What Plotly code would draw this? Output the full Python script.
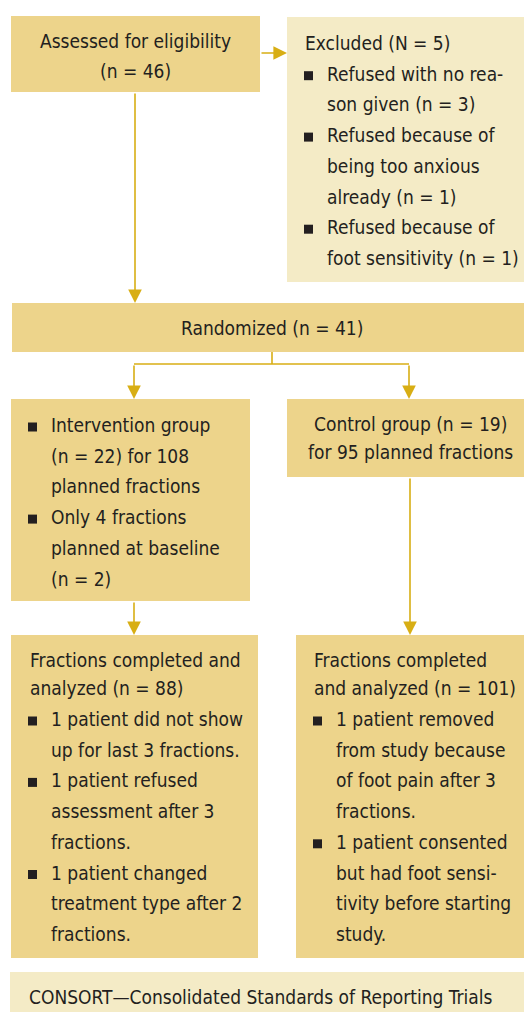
import plotly.graph_objects as go

# ---- content ----
assessed_lines = ["Assessed for eligibility", "(n = 46)"]
excluded_title = "Excluded (N = 5)"
excluded_items = [
    ["Refused with no rea-", "son given (n = 3)"],
    ["Refused because of", "being too anxious", "already (n = 1)"],
    ["Refused because of", "foot sensitivity (n = 1)"],
]
randomized_text = "Randomized (n = 41)"
intervention_items = [
    ["Intervention group", "(n = 22) for 108", "planned fractions"],
    ["Only 4 fractions", "planned at baseline", "(n = 2)"],
]
control_lines = ["Control group (n = 19)", "for 95 planned fractions"]
left_title = ["Fractions completed and", "analyzed (n = 88)"]
left_items = [
    ["1 patient did not show", "up for last 3 fractions."],
    ["1 patient refused", "assessment after 3", "fractions."],
    ["1 patient changed", "treatment type after 2", "fractions."],
]
right_title = ["Fractions completed", "and analyzed (n = 101)"]
right_items = [
    ["1 patient removed", "from study because", "of foot pain after 3", "fractions."],
    ["1 patient consented", "but had foot sensi-", "tivity before starting", "study."],
]
footer_text = "CONSORT\u2014Consolidated Standards of Reporting Trials"

# ---- style ----
W, H = 524, 1012
DARK = "#EDD48B"
LIGHT = "#F4EBC6"
ARROW = "#D8AE14"
TXT = "#231F20"
FONT = "DejaVu Sans Condensed, Liberation Sans Narrow, sans-serif"
FS = 19
LH = 30.7

fig = go.Figure()
shapes = []
ann = []

def box(x0, y0, x1, y1, color):
    shapes.append(dict(type="rect", xref="x", yref="y", x0=x0, y0=y0, x1=x1, y1=y1,
                       fillcolor=color, line=dict(width=0), layer="below"))

def text(x, y, s, anchor="left", size=FS):
    ann.append(dict(x=x, y=y, xref="x", yref="y", text=s, showarrow=False,
                    xanchor=anchor, yanchor="middle",
                    font=dict(family=FONT, size=size, color=TXT)))

def bullet(x, y):
    shapes.append(dict(type="rect", xref="x", yref="y", x0=x, y0=y - 4.5, x1=x + 9, y1=y + 4.5,
                       fillcolor=TXT, line=dict(width=0)))

def line(x0, y0, x1, y1):
    shapes.append(dict(type="line", xref="x", yref="y", x0=x0, y0=y0, x1=x1, y1=y1,
                       line=dict(color=ARROW, width=1.6)))

def arrow(x0, y0, x1, y1):
    ann.append(dict(x=x1, y=y1, ax=x0, ay=y0, xref="x", yref="y", axref="x", ayref="y",
                    text="", showarrow=True, arrowhead=2, arrowsize=1.7, arrowwidth=1.6,
                    arrowcolor=ARROW, standoff=0, startstandoff=0))

def bullets(items, y0, bx, tx):
    y = y0
    for item in items:
        bullet(bx, y + 2)
        for ln in item:
            text(tx, y, ln)
            y += LH
    return y

# boxes
box(11, 16, 260, 92, DARK)
box(287, 17, 524, 282, LIGHT)
box(12, 303, 524, 352, DARK)
box(11, 399, 250, 601, DARK)
box(287, 399, 524, 477, DARK)
box(11, 635, 258, 958, DARK)
box(296, 635, 524, 958, DARK)
box(10, 972, 524, 1012, LIGHT)

# connectors
arrow(260, 53, 287, 53)
arrow(135, 92, 135, 303)
line(272, 352, 272, 364)
line(134, 364, 409, 364)
arrow(134, 364, 134, 399)
arrow(409, 364, 409, 399)
arrow(134, 601, 134, 635)
arrow(410, 477, 410, 635)

# texts
for i, s in enumerate(assessed_lines):
    text(135, 41 + i * 30, s, anchor="center")
text(303, 43, excluded_title)
bullets(excluded_items, 43 + LH, 304, 325)
text(272, 328, randomized_text, anchor="center")
bullets(intervention_items, 425, 28, 49)
for i, s in enumerate(control_lines):
    text(410, 424 + i * 28, s, anchor="center")
for i, s in enumerate(left_title):
    text(28, 660 + i * 28, s)
bullets(left_items, 719, 28, 49)
for i, s in enumerate(right_title):
    text(312, 660 + i * 28, s)
bullets(right_items, 719, 313, 334)
text(27, 997, footer_text)

fig.update_layout(
    width=W, height=H, margin=dict(l=0, r=0, t=0, b=0),
    paper_bgcolor="white", plot_bgcolor="white",
    xaxis=dict(range=[0, W], visible=False, fixedrange=True),
    yaxis=dict(range=[H, 0], visible=False, fixedrange=True),
    shapes=shapes, annotations=ann, showlegend=False,
)
fig.write_html("out.html", config={"displayModeBar": False},
               post_script="document.body.style.margin='0';document.body.style.overflow='hidden';")
